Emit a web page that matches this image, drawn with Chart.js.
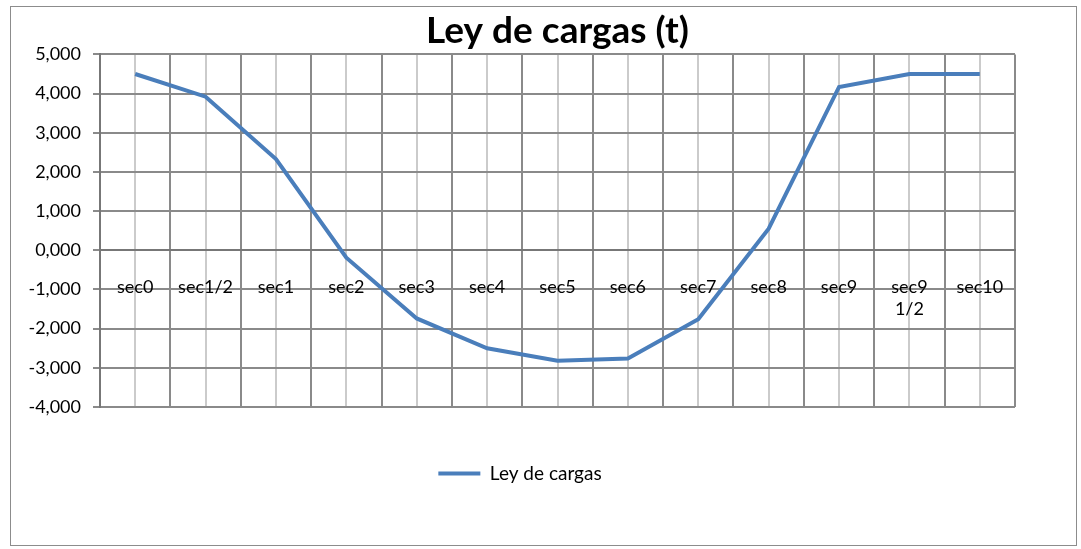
<html>
  <head>
    <title>Ley de cargas</title>
    <style>
      body {
        margin: 0;
        background: #ffffff;
        font-family: Lato, "Open Sans", sans-serif;
      }
      .frame {
        position: absolute;
        left: 10px;
        top: 6px;
        width: 1067px;
        height: 540px;
        border: 1px solid #8c8c8c;
        box-sizing: border-box;
      }
      .chart-container {
        position: absolute;
        left: 11px;
        top: 7px;
        width: 1065px;
        height: 538px;
      }
    </style>
    <script src="https://cdn.jsdelivr.net/npm/chart.js"></script>
  </head>
  <body>
    <div class="frame"></div>
    <div class="chart-container">
      <canvas id="cargas"></canvas>
    </div>

    <script>
      // categories and values
      let secciones = ["sec0", "sec1/2", "sec1", "sec2", "sec3", "sec4", "sec5",
        "sec6", "sec7", "sec8", "sec9", ["sec9", "1/2"], "sec10"];
      let cargas = [4.5, 3.92, 2.33, -0.19, -1.74, -2.5, -2.82, -2.76, -1.76, 0.55, 4.17, 4.5, 4.5];
      let yMin = -4;
      let yMax = 5;

      // 5,000 style labels
      function formatTick(v) {
        return v.toFixed(3).replace(".", ",");
      }

      const data = {
        labels: secciones,
        datasets: [
          {
            label: "Ley de cargas",
            data: cargas,
            borderColor: "#4a7ebb",
            backgroundColor: "#4a7ebb",
            borderWidth: 4,
            pointRadius: 0,
            tension: 0,
            xAxisID: "x",
            yAxisID: "y"
          }
        ]
      };

      const config = {
        type: "line",
        data: data,
        options: {
          responsive: true,
          maintainAspectRatio: false,
          animation: false,
          layout: {
            padding: { left: 14, right: 61, top: 0, bottom: 52 }
          },
          plugins: {
            title: {
              display: true,
              fullSize: false,
              text: "Ley de cargas (t)",
              color: "#000000",
              font: { family: "Lato", size: 37, weight: "bold" },
              padding: { top: 2, bottom: 1 }
            },
            legend: {
              position: "bottom",
              labels: {
                color: "#000000",
                font: { family: "Lato", size: 19 },
                boxWidth: 42,
                boxHeight: 0,
                padding: 57
              }
            },
            tooltip: { enabled: false }
          },
          scales: {
            x: {
              type: "category",
              position: { y: 0 },
              offset: true,
              grid: {
                offset: true,
                color: "#8a8a8a",
                lineWidth: 2,
                tickLength: 7
              },
              border: { color: "#777777", width: 2 },
              ticks: {
                color: "#000000",
                font: { family: "Lato", size: 18 },
                padding: 19,
                maxRotation: 0,
                autoSkip: false
              }
            },
            x2: {
              type: "category",
              labels: secciones,
              position: "top",
              offset: true,
              grid: {
                offset: false,
                color: "#cbcbcb",
                lineWidth: 2,
                drawTicks: false
              },
              border: { display: false },
              ticks: { display: false }
            },
            y: {
              min: yMin,
              max: yMax,
              grid: {
                color: "#8a8a8a",
                lineWidth: 2,
                tickLength: 7
              },
              border: { color: "#777777", width: 2 },
              ticks: {
                stepSize: 1,
                color: "#000000",
                font: { family: "Lato", size: 18 },
                padding: 12,
                callback: (v) => formatTick(v)
              },
              afterFit: (scale) => {
                scale.width = 75;
              }
            }
          }
        }
      };

      new Chart(document.getElementById("cargas"), config);
    </script>
  </body>
</html>
